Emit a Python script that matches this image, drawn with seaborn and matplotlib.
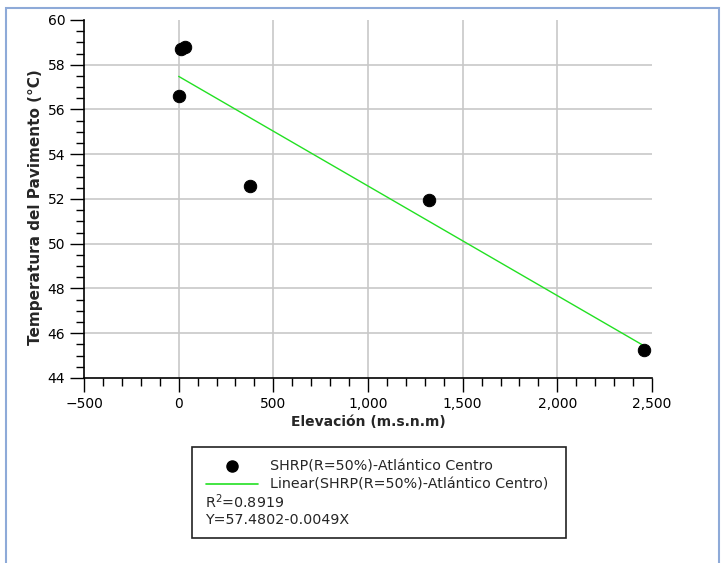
import matplotlib
matplotlib.use("Agg")
import matplotlib.pyplot as plt
import matplotlib.ticker as mticker
from matplotlib.lines import Line2D
from matplotlib.patches import Rectangle
import numpy as np
import pandas as pd
import seaborn as sns

# data
elevacion = [0, 12, 33, 377, 1322, 2458]
temperatura = [56.6, 58.7, 58.8, 52.6, 51.95, 45.25]
intercept = 57.4802
slope = -0.0049
r2 = 0.8919
serie = "SHRP(R=50%)-Atlántico Centro"

df = pd.DataFrame({"x": elevacion, "y": temperatura})
x_fit = np.array([min(elevacion), max(elevacion)])
fit = pd.DataFrame({"x": x_fit, "y": intercept + slope * x_fit})

sns.set_style("white")
plt.rcParams["font.family"] = ["DejaVu Sans"]

fig = plt.figure(figsize=(7.24, 5.63), dpi=100)
ax = fig.add_axes([0.116, 0.3286, 0.7846, 0.6359])

# grid lines at interior ticks only
for v in range(0, 2500, 500):
    ax.axvline(v, color="#c8c8c8", lw=1.2, zorder=0)
for v in range(46, 60, 2):
    ax.axhline(v, color="#c8c8c8", lw=1.2, zorder=0)

sns.lineplot(data=fit, x="x", y="y", color="#22e022", lw=1.0, ax=ax, zorder=2)
sns.scatterplot(data=df, x="x", y="y", color="black", s=80, edgecolor="black", ax=ax, zorder=3)

ax.set_xlim(-500, 2500)
ax.set_ylim(44, 60)
ax.xaxis.set_major_locator(mticker.MultipleLocator(500))
ax.xaxis.set_minor_locator(mticker.MultipleLocator(100))
ax.yaxis.set_major_locator(mticker.MultipleLocator(2))
ax.yaxis.set_minor_locator(mticker.MultipleLocator(0.5))
ax.xaxis.set_major_formatter(mticker.FuncFormatter(lambda v, p: f"{v:,.0f}".replace("-", "\u2212")))
ax.tick_params(axis="both", which="major", direction="out", length=10, width=1, colors="black",
               labelsize=10, bottom=True, left=True)
ax.tick_params(axis="both", which="minor", direction="out", length=6, width=1, colors="black",
               bottom=True, left=True)
for s in ["top", "right"]:
    ax.spines[s].set_visible(False)
for s in ["left", "bottom"]:
    ax.spines[s].set_color("black")
    ax.spines[s].set_linewidth(1.2)

ax.set_xlabel("Elevación (m.s.n.m)", fontweight="bold", fontsize=10, labelpad=3)
ax.set_ylabel("Temperatura del Pavimento (°C)", fontweight="bold", fontsize=11)
ax.yaxis.set_label_coords(-0.072, 0.478)

# legend box
fig.patches.append(Rectangle((0.265, 0.0444), 0.517, 0.1616, transform=fig.transFigure,
                             fill=False, edgecolor="#222222", lw=1.2))
handles = [
    Line2D([], [], marker="o", color="black", ls="none", markersize=8),
    Line2D([], [], color="#22e022", lw=1.2),
]
fig.legend(handles, [serie, f"Linear({serie})"], loc="upper left",
           bbox_to_anchor=(0.275, 0.1965), frameon=False, fontsize=10.3,
           handlelength=3.6, handletextpad=0.84, labelspacing=0.28, borderpad=0)
fig.text(0.283, 0.108, f"R$^2$={r2}", fontsize=10.3, va="center")
fig.text(0.283, 0.077, f"Y={intercept}-{abs(slope)}X", fontsize=10.3, va="center")

# outer frame
fig.patches.append(Rectangle((0.008, -0.01), 0.985, 0.996, transform=fig.transFigure,
                             fill=False, edgecolor="#8eaad8", lw=1.5))

fig.savefig("out.png", dpi=100)
